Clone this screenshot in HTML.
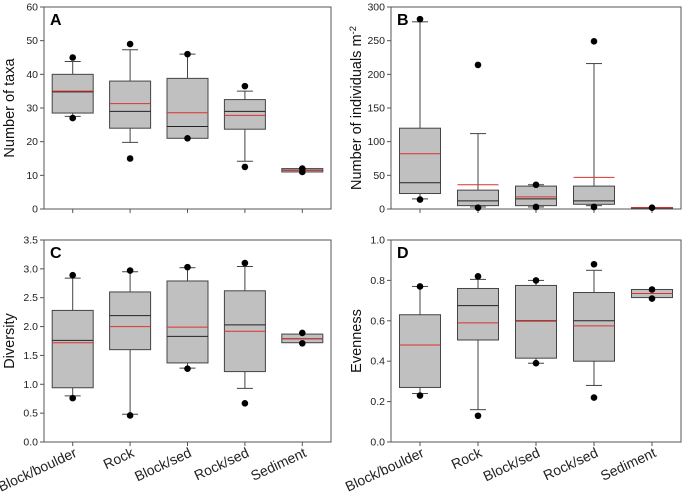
<!DOCTYPE html>
<html><head><meta charset="utf-8"><style>
body{margin:0;background:#fff}
svg{display:block;font-family:"Liberation Sans",Arial,sans-serif}
</style></head><body>
<svg id="chart" width="683" height="500" viewBox="0 0 683 500" xmlns="http://www.w3.org/2000/svg"></svg>
<script>
const categories = ["Block/boulder","Rock","Block/sed","Rock/sed","Sediment"];
// [wlo, q1, median, q3, whi]
const taxaBox = [[27.5,28.5,34.8,40,43.8],[19.8,24,29,38,47.3],[21,21,24.5,38.8,46],[14.2,23.7,29,32.5,35],[11,11,11.5,12,12]];
const taxaMean = [35,31.3,28.6,27.8,11.5];
const taxaOut = [[27,45],[15,49],[21,46],[12.5,36.5],[11,12]];
const indBox = [[15,23,39,120,278],[3,5,12,28,112],[3,5,15,34,36],[5,7,12,34,216],[1,1,2,2,2]];
const indMean = [82,36,18,47,2];
const indOut = [[14,282],[2,214],[3,36],[3,249],[2]];
const divBox = [[0.8,0.94,1.76,2.28,2.84],[0.48,1.6,2.19,2.6,2.95],[1.28,1.37,1.83,2.79,3.02],[0.93,1.22,2.03,2.62,3.04],[1.72,1.72,1.79,1.87,1.87]];
const divMean = [1.72,2.0,1.99,1.92,1.79];
const divOut = [[0.76,2.89],[0.46,2.97],[1.27,3.03],[0.67,3.1],[1.71,1.89]];
const evBox = [[0.24,0.27,0.48,0.63,0.77],[0.16,0.505,0.675,0.76,0.805],[0.39,0.415,0.6,0.775,0.8],[0.28,0.40,0.60,0.74,0.85],[0.715,0.715,0.735,0.755,0.755]];
const evMean = [0.48,0.59,0.598,0.575,0.735];
const evOut = [[0.23,0.77],[0.13,0.82],[0.39,0.8],[0.22,0.88],[0.71,0.755]];
const ticksA = [0,10,20,30,40,50,60];
const ticksB = [0,50,100,150,200,250,300];
const ticksC = [0.0,0.5,1.0,1.5,2.0,2.5,3.0,3.5];
const ticksD = [0.0,0.2,0.4,0.6,0.8,1.0];

const svg = document.getElementById('chart');
const NS = 'http://www.w3.org/2000/svg';
function mk(tag, attrs, parent){const e=document.createElementNS(NS,tag);for(const k in attrs)e.setAttribute(k,attrs[k]);(parent||svg).appendChild(e);return e;}

function panel(id, L, R, T, B, max, ticks, dec, box, mean, outs, letter, title, titleX, showX, sup){
  const g = mk('g',{});
  
  
  const y = v => B - v/max*(B-T);
  const step = (R-L)/5;
  const x = i => L + step*(i+0.5);
  const bw = 41;
  const fr = mk('rect',{x:L,y:T,width:R-L,height:B-T,fill:'none',stroke:'#555','stroke-width':1},g);
  
  
  ticks.forEach(t=>{
    mk('line',{x1:L-4,x2:L,y1:y(t),y2:y(t),stroke:'#555'},g);
    const tx = mk('text',{x:L-6,y:y(t)+3.5,'font-size':10.5,'text-anchor':'end',fill:'#222'},g);
    tx.textContent = t.toFixed(dec);
    
    
  });
  categories.forEach((c,i)=>{
    const cx = x(i);
    mk('line',{x1:cx,x2:cx,y1:B,y2:B+4,stroke:'#555'},g);
    const b = box[i];
    mk('line',{x1:cx,x2:cx,y1:y(b[0]),y2:y(b[1]),stroke:'#444'},g);
    mk('line',{x1:cx,x2:cx,y1:y(b[3]),y2:y(b[4]),stroke:'#444'},g);
    if(b[0]<b[1]) mk('line',{x1:cx-8,x2:cx+8,y1:y(b[0]),y2:y(b[0]),stroke:'#444'},g);
    if(b[4]>b[3]) mk('line',{x1:cx-8,x2:cx+8,y1:y(b[4]),y2:y(b[4]),stroke:'#444'},g);
    const r = mk('rect',{x:cx-bw/2,y:y(b[3]),width:bw,height:Math.max(1,y(b[1])-y(b[3])),fill:'#c0c0c0',stroke:'#444'},g);
    
    
    mk('line',{x1:cx-bw/2,x2:cx+bw/2,y1:y(b[2]),y2:y(b[2]),stroke:'#222'},g);
    const m = mk('line',{x1:cx-bw/2,x2:cx+bw/2,y1:y(mean[i]),y2:y(mean[i]),stroke:'#e03030'},g);
    
    
    outs[i].forEach(o=>{
      const d = mk('circle',{cx:cx,cy:y(o),r:3.3,fill:'#000'},g);
      
      
    });
    if(showX){
      const lt = mk('text',{x:cx+5,y:B+14,'font-size':14,'text-anchor':'end',fill:'#222',transform:`rotate(-25 ${cx+5} ${B+14})`},g);
      lt.textContent = c;
      
      
    }
  });
  const lb = mk('text',{x:L+6,y:T+18,'font-size':16,'font-weight':'bold',fill:'#000'},g);
  lb.textContent = letter;
  
  
  const cy = (T+B)/2;
  const tt = mk('text',{x:titleX,y:cy,'font-size':14.5,'text-anchor':'middle',fill:'#111',transform:`rotate(-90 ${titleX} ${cy})`},g);
  tt.textContent = title;
  if(sup){const s=mk('tspan',{dy:-5,'font-size':9.5},tt);s.textContent=sup;}
  
  
}
panel('a',44,331,7,209,60,ticksA,0,taxaBox,taxaMean,taxaOut,'A','Number of taxa',14,false);
panel('b',391,681,7,209,300,ticksB,0,indBox,indMean,indOut,'B','Number of individuals m',361,false,'-2');
panel('c',44,331,240,442,3.5,ticksC,1,divBox,divMean,divOut,'C','Diversity',14,true);
panel('d',391,681,240,442,1.0,ticksD,1,evBox,evMean,evOut,'D','Evenness',361,true);
</script>
</body></html>
